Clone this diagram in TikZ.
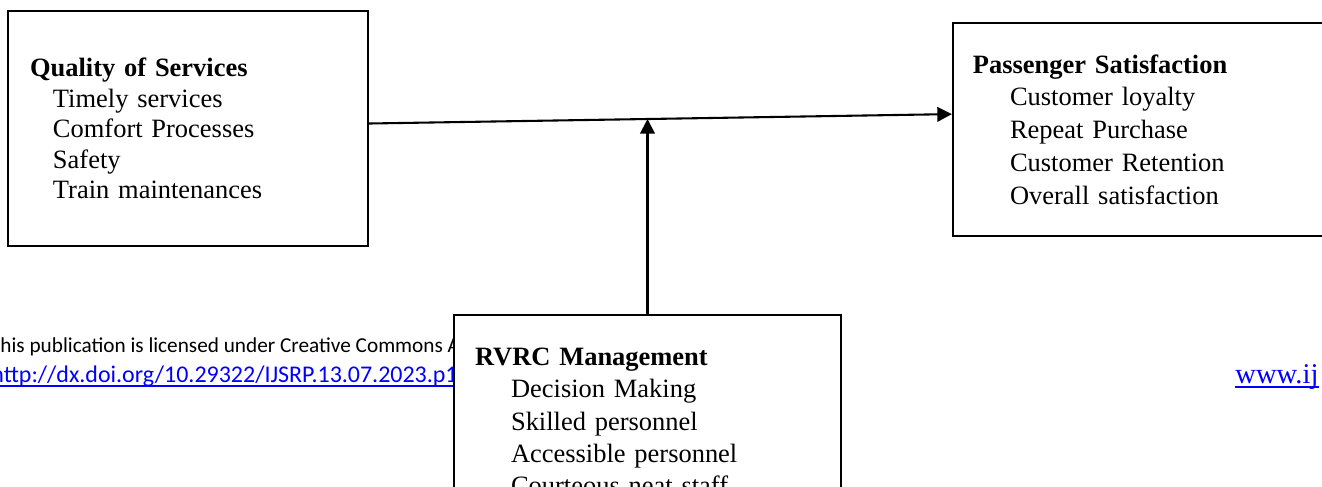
\documentclass[tikz,border=0pt]{standalone}
\usepackage{fontspec}
\setmainfont{Liberation Serif}
\newfontfamily\footfont{Carlito}
\usepackage{tikz}
\usetikzlibrary{arrows.meta}
\definecolor{linkblue}{RGB}{0,0,255}

\begin{document}
\begin{tikzpicture}[
                x=0.48pt, y=-0.48pt,
                >={Triangle[length=7pt, width=7pt]},
                box/.style={rectangle, draw, line width=1pt, fill=white, align=left},
                line/.style={draw, ->, line width=1pt},
                foot/.style={anchor=base west, inner sep=0pt, font=\footfont\fontsize{10.2}{12}\selectfont}
            ]
                \useasboundingbox (0,0) rectangle (1322,486);
                \clip (0,0) rectangle (1322,486);

                % --- FUSSZEILE ---
                \node[foot] (licence) at (0,352) {his publication is licensed under Creative Commons A};
                \node[foot, text=linkblue, font=\footfont\fontsize{11.5}{13}\selectfont] (doi) at (-9,382) {http://dx.doi.org/10.29322/IJSRP.13.07.2023.p1};
                \draw[linkblue, line width=0.7pt] ([yshift=-2pt]doi.base west) -- ([yshift=-2pt]doi.base east);
                \node[anchor=base west, inner sep=0pt, text=linkblue, font=\fontsize{13.7}{16}\selectfont] (web) at (1235,383) {www.ij};
                \draw[linkblue, line width=0.7pt] ([yshift=-2pt]web.base west) -- ([yshift=-2pt]web.base east);

                % --- BLOECKE ---
                \node[box, text width=151.6pt, inner xsep=10.6pt, minimum height=112.8pt,
                      font=\fontsize{12.7}{14.64}\selectfont] (quality) at (188,128.5)
                    {\textbf{Quality of Services}\\
                     \hspace*{11pt}Timely services\\
                     \hspace*{11pt}Comfort Processes\\
                     \hspace*{11pt}Safety\\
                     \hspace*{11pt}Train maintenances};
                \node[box, text width=169pt, inner xsep=9.6pt, minimum height=102.2pt,
                      font=\fontsize{12.7}{15.7}\selectfont] (passenger) at (1149,129.5)
                    {\textbf{Passenger Satisfaction}\\
                     \hspace*{17.8pt}Customer loyalty\\
                     \hspace*{17.8pt}Repeat Purchase\\
                     \hspace*{17.8pt}Customer Retention\\
                     \hspace*{17.8pt}Overall satisfaction};
                \node[box, anchor=north, text width=165.6pt, inner xsep=10.1pt, inner ysep=15.8pt,
                      font=\fontsize{12.7}{15.5}\selectfont] (rvrc) at (647.5,314)
                    {\textbf{RVRC Management}\\
                     \hspace*{17.3pt}Decision Making\\
                     \hspace*{17.3pt}Skilled personnel\\
                     \hspace*{17.3pt}Accessible personnel\\
                     \hspace*{17.3pt}Courteous neat staff};

                % --- VERBINDUNGEN ---
                \draw[line] ([yshift=2.4pt]quality.east) -- coordinate[pos=0.477] (join) ([yshift=7.4pt]passenger.west);
                \draw[line] (rvrc.north) -- (rvrc.north |- join);

            \end{tikzpicture}
\end{document}
